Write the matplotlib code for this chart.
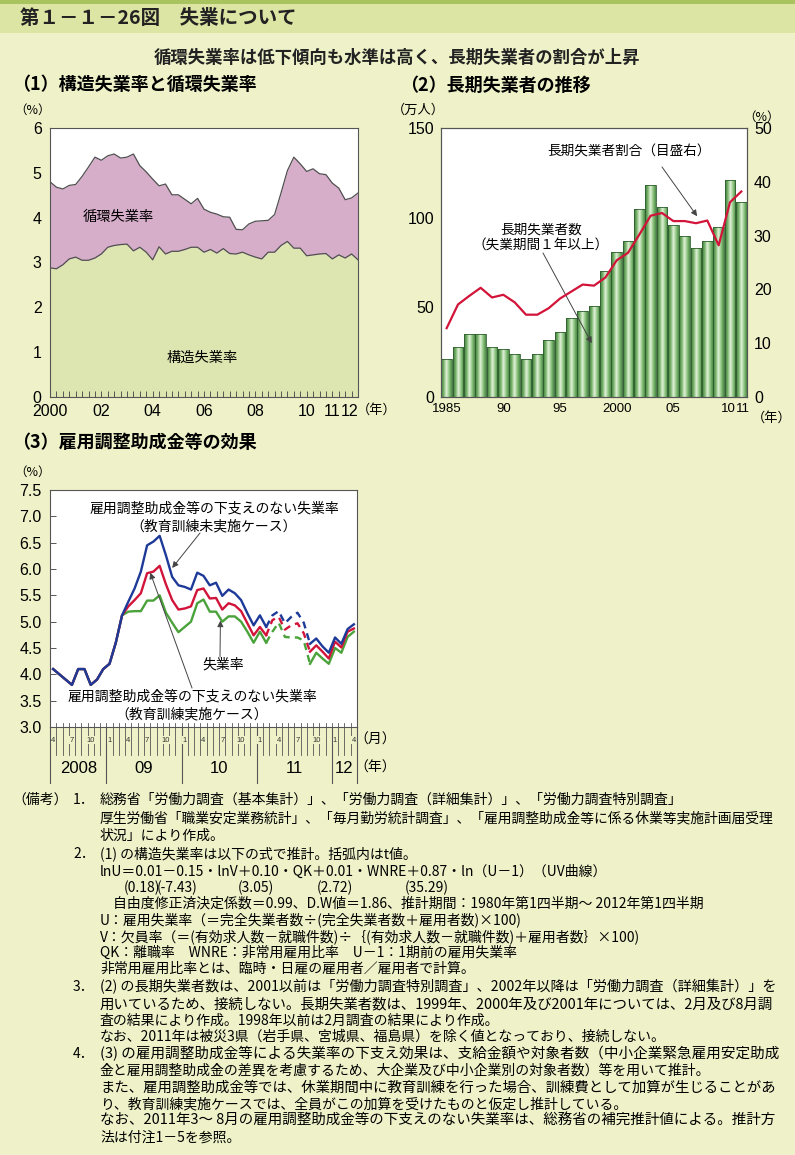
import matplotlib
matplotlib.use('Agg')
import matplotlib.pyplot as plt
import numpy as np
from matplotlib.colors import LinearSegmentedColormap
from matplotlib.patches import Rectangle
from matplotlib.transforms import blended_transform_factory

plt.rcParams['font.family'] = ['Noto Sans CJK JP', 'DejaVu Sans']
NUM = ['Liberation Sans', 'DejaVu Sans']

W, H = 795, 1155

# (1) quarterly 2000Q1 - 2012Q1
total_rate = [4.80, 4.68, 4.64, 4.72, 4.74, 4.92, 5.13, 5.35, 5.28, 5.38,
              5.42, 5.33, 5.35, 5.42, 5.16, 5.02, 4.86, 4.71, 4.75, 4.51,
              4.51, 4.41, 4.31, 4.43, 4.19, 4.12, 4.08, 4.02, 4.01, 3.74,
              3.73, 3.86, 3.92, 3.93, 3.94, 4.07, 4.55, 5.05, 5.35, 5.20,
              5.03, 5.09, 4.98, 4.96, 4.77, 4.66, 4.40, 4.44, 4.55]
structural_rate = [2.88, 2.86, 2.95, 3.08, 3.12, 3.05, 3.05, 3.10, 3.19, 3.34,
                   3.38, 3.40, 3.41, 3.26, 3.34, 3.23, 3.06, 3.35, 3.19, 3.25,
                   3.25, 3.29, 3.34, 3.34, 3.23, 3.29, 3.21, 3.31, 3.20, 3.19,
                   3.23, 3.17, 3.12, 3.08, 3.23, 3.23, 3.38, 3.47, 3.32, 3.32,
                   3.15, 3.17, 3.19, 3.20, 3.08, 3.17, 3.10, 3.19, 3.06]
p1_ticks = [2000, 2002, 2004, 2006, 2008, 2010, 2011, 2012]
p1_ticklabels = ['2000', '02', '04', '06', '08', '10', '11', '12']

# (2) annual 1985 - 2011
lt_years = list(range(1985, 2012))
lt_unemployed = [21, 28, 35, 35, 28, 27, 24, 21, 24, 32, 36, 44, 48, 51,
                 70, 81, 87, 105, 118, 106, 96, 90, 83, 87, 95, 121, 109]
lt_share = [12.8, 17.2, 18.8, 20.3, 18.5, 19.0, 17.6, 15.3, 15.3, 16.5,
            18.3, 19.6, 20.9, 20.7, 22.2, 25.4, 26.8, 30.2, 33.7, 34.2,
            32.7, 32.7, 32.3, 32.8, 28.2, 36.2, 38.2]
p2_ticks = [1985, 1990, 1995, 2000, 2005, 2010, 2011]
p2_ticklabels = ['1985', '90', '95', '2000', '05', '10', '11']

# (3) monthly 2008-04 - 2012-04
rate_actual = [4.1, 4.0, 3.9, 3.8, 4.1, 4.1, 3.8, 3.9, 4.1, 4.2, 4.6, 5.12,
               5.19, 5.20, 5.20, 5.40, 5.40, 5.50, 5.17, 4.98, 4.80, 4.90, 5.00, 5.35,
               5.42, 5.19, 5.19, 5.00, 5.10, 5.10, 5.00, 4.81, 4.60, 4.81, 4.60, 4.81,
               4.98, 4.71, 4.70, 4.70, 4.64, 4.20, 4.41, 4.30, 4.20, 4.50, 4.41, 4.71,
               4.81]
rate_no_support_train = [4.1, 4.0, 3.9, 3.8, 4.1, 4.1, 3.8, 3.9, 4.1, 4.2, 4.6, 5.12,
                         5.29, 5.41, 5.54, 5.92, 5.95, 6.06, 5.71, 5.41, 5.23, 5.25, 5.29, 5.60,
                         5.63, 5.44, 5.45, 5.23, 5.35, 5.31, 5.20, 4.97, 4.74, 4.90, 4.74, 5.03,
                         5.09, 4.85, 4.93, 4.97, 4.78, 4.43, 4.55, 4.43, 4.30, 4.62, 4.51, 4.81,
                         4.87]
rate_no_support = [4.1, 4.0, 3.9, 3.8, 4.1, 4.1, 3.8, 3.9, 4.1, 4.2, 4.6, 5.12,
                   5.38, 5.63, 5.95, 6.45, 6.52, 6.63, 6.26, 5.85, 5.69, 5.66, 5.61, 5.93,
                   5.87, 5.69, 5.74, 5.49, 5.61, 5.54, 5.41, 5.16, 4.93, 5.12, 4.90, 5.12,
                   5.20, 4.97, 5.09, 5.17, 4.98, 4.58, 4.68, 4.53, 4.41, 4.70, 4.58, 4.86,
                   4.95]
p3_year_labels = ['2008', '09', '10', '11', '12']
dash_from, dash_to = 34, 41   # 2011-02 .. 2011-09 (Mar-Aug estimated)

notes = [
    (800, 100, '総務省「労働力調査（基本集計）」、「労働力調査（詳細集計）」、「労働力調査特別調査」', False),
    (818, 100, '厚生労働省「職業安定業務統計」、「毎月勤労統計調査」、「雇用調整助成金等に係る休業等実施計画届受理', True),
    (836, 100, '状況」により作成。', False),
    (854, 100, '(1) の構造失業率は以下の式で推計。括弧内はt値。', False),
    (872, 100, 'lnU＝0.01－0.15・lnV＋0.10・QK＋0.01・WNRE＋0.87・ln（U－1）（UV曲線）', False),
    (904, 113, '自由度修正済決定係数＝0.99、D.W値＝1.86、推計期間：1980年第1四半期～ 2012年第1四半期', False),
    (920, 100, 'U：雇用失業率（＝完全失業者数÷(完全失業者数＋雇用者数)×100)', False),
    (937, 100, 'V：欠員率（＝(有効求人数－就職件数)÷｛(有効求人数－就職件数)＋雇用者数｝×100)', False),
    (953, 100, 'QK：離職率　WNRE：非常用雇用比率　U－1：1期前の雇用失業率', False),
    (969, 100, '非常用雇用比率とは、臨時・日雇の雇用者／雇用者で計算。', False),
    (987, 100, '(2) の長期失業者数は、2001以前は「労働力調査特別調査」、2002年以降は「労働力調査（詳細集計）」を', True),
    (1004, 100, '用いているため、接続しない。長期失業者数は、1999年、2000年及び2001年については、2月及び8月調', True),
    (1021, 100, '査の結果により作成。1998年以前は2月調査の結果により作成。', False),
    (1037, 100, 'なお、2011年は被災3県（岩手県、宮城県、福島県）を除く値となっており、接続しない。', False),
    (1054, 100, '(3) の雇用調整助成金等による失業率の下支え効果は、支給金額や対象者数（中小企業緊急雇用安定助成', True),
    (1071, 100, '金と雇用調整助成金の差異を考慮するため、大企業及び中小企業別の対象者数）等を用いて推計。', False),
    (1088, 100, 'また、雇用調整助成金等では、休業期間中に教育訓練を行った場合、訓練費として加算が生じることがあ', True),
    (1104, 100, 'り、教育訓練実施ケースでは、全員がこの加算を受けたものと仮定し推計している。', False),
    (1121, 100, 'なお、2011年3～ 8月の雇用調整助成金等の下支えのない失業率は、総務省の補完推計値による。推計方', True),
    (1138, 100, '法は付注1－5を参照。', False),
]
note_nums = [(800, '1．'), (854, '2．'), (987, '3．'), (1054, '4．')]
tvals = [(124, '(0.18)'), (157, '(-7.43)'), (238, '(3.05)'), (317, '(2.72)'), (405, '(35.29)')]

BG = '#EFF2C8'


def F(x, y):
    # top-left pixel -> figure fraction
    return x / W, 1 - y / H


def ftext(x, y, s, **kw):
    return fig.text(*F(x, y), s, **kw)


def rect_axes(l, t, r, b):
    return fig.add_axes([l / W, 1 - b / H, (r - l) / W, (b - t) / H])


fig = plt.figure(figsize=(W / 100, H / 100), dpi=100)
fig.patch.set_facecolor(BG)

# header band
fig.patches.append(Rectangle(F(0, 33), 1, 33 / H, transform=fig.transFigure,
                             facecolor='#DCE5A3', edgecolor='none', zorder=0))
fig.patches.append(Rectangle(F(0, 4), 1, 4 / H, transform=fig.transFigure,
                             facecolor='#A9C45E', edgecolor='none', zorder=0))
ftext(20, 18, '第１－１－26図　失業について', fontsize=14, fontweight='bold',
      va='center', color='#222222')
ftext(397, 58, '循環失業率は低下傾向も水準は高く、長期失業者の割合が上昇',
      fontsize=12.5, fontweight='bold', ha='center', va='center', color='#222222')
ftext(12, 85, '（1）構造失業率と循環失業率', fontsize=13, fontweight='bold', va='center')
ftext(400, 85, '（2）長期失業者の推移', fontsize=13, fontweight='bold', va='center')
ftext(12, 442, '（3）雇用調整助成金等の効果', fontsize=13, fontweight='bold', va='center')

arrow_kw = dict(arrowstyle='-|>', color='#444444', lw=0.7, mutation_scale=9,
                shrinkA=0, shrinkB=0)

# ---------------- (1) structural vs cyclical
ax1 = rect_axes(50, 128, 358, 397)
xq = 2000 + np.arange(len(total_rate)) / 4
ax1.fill_between(xq, 0, structural_rate, color='#DDE5B0', lw=0)
ax1.fill_between(xq, structural_rate, total_rate, color='#D6AECA', lw=0)
ax1.plot(xq, structural_rate, color='#505050', lw=0.9)
ax1.plot(xq, total_rate, color='#505050', lw=0.9)
ax1.set_xlim(2000, 2012)
ax1.set_ylim(0, 6)
ax1.set_xticks(p1_ticks)
ax1.set_xticklabels(p1_ticklabels, fontfamily=NUM, fontsize=11.5)
ax1.get_xticklabels()[-1].set_ha('right')
ax1.set_xticks(xq, minor=True)
ax1.tick_params(axis='x', which='both', direction='in', length=4, width=0.7,
                color='#555555', pad=5)
ax1.set_yticks(range(7))
ax1.set_yticklabels([str(v) for v in range(7)], fontfamily=NUM, fontsize=11.5)
ax1.tick_params(axis='y', length=0, pad=6)
for s in ax1.spines.values():
    s.set_color('#555555')
    s.set_linewidth(0.8)
ax1.set_facecolor('white')
ftext(33, 110, '（%）', fontsize=9, va='center', ha='center')
ftext(357, 410, '（年）', fontsize=9.5, va='center', ha='left')
ftext(118, 217, '循環失業率', fontsize=10.3, ha='center', va='center')
ftext(202, 358, '構造失業率', fontsize=10.3, ha='center', va='center')

# ---------------- (2) long-term unemployed
ax2 = rect_axes(441, 128, 747, 397)
ax2.set_facecolor('white')
bars = ax2.bar(lt_years, lt_unemployed, width=0.92, facecolor='none',
               edgecolor='#2F5F2F', lw=0.6, zorder=3)
bar_cmap = LinearSegmentedColormap.from_list(
    'bar', ['#3D7A3B', '#78B36A', '#E4F3DC', '#8CC47F', '#4C8B47'])
grad = np.linspace(0, 1, 64).reshape(1, -1)
for r in bars:
    x0, w, h = r.get_x(), r.get_width(), r.get_height()
    im = ax2.imshow(grad, extent=[x0, x0 + w, 0, h], aspect='auto',
                    cmap=bar_cmap, zorder=2, interpolation='bilinear')
    im.set_clip_path(r)
ax2.set_xlim(1984.5, 2011.5)
ax2.set_ylim(0, 150)
ax2.set_aspect('auto')
ax2.set_xticks([])
tr2 = blended_transform_factory(ax2.transData, ax2.transAxes)
for xt, lab in zip(p2_ticks, p2_ticklabels):
    ha = {'10': 'right', '11': 'left'}.get(lab, 'center')
    dx = {'10': 0.55, '11': -0.45}.get(lab, 0)
    ax2.text(xt + dx, -0.043, lab, transform=tr2, ha=ha, va='center',
             fontfamily=NUM, fontsize=9.5)
ax2.set_yticks([0, 50, 100, 150])
ax2.set_yticklabels(['0', '50', '100', '150'], fontfamily=NUM, fontsize=11.5)
ax2.tick_params(axis='y', length=0, pad=5)
ax2r = ax2.twinx()
ax2r.plot(lt_years, lt_share, color='#D2143A', lw=1.6, zorder=4)
ax2r.set_ylim(0, 50)
ax2r.set_yticks(range(0, 51, 10))
ax2r.set_yticklabels([str(v) for v in range(0, 51, 10)], fontfamily=NUM, fontsize=11.5)
ax2r.tick_params(axis='y', length=0, pad=5)
for a in (ax2, ax2r):
    for s in a.spines.values():
        s.set_color('#555555')
        s.set_linewidth(0.8)
ftext(418, 110, '（万人）', fontsize=9.5, va='center', ha='center')
ftext(762, 117, '（%）', fontsize=9, va='center', ha='center')
ftext(752, 418, '（年）', fontsize=9.5, va='center', ha='left')
ftext(629, 152, '長期失業者割合（目盛右）', fontsize=9.8, ha='center', va='center')
ftext(541, 230, '長期失業者数', fontsize=9.8, ha='center', va='center')
ftext(541, 246, '（失業期間１年以上）', fontsize=9.8, ha='center', va='center')
ax2r.annotate('', xy=(2007.1, 33.6), xytext=F(662, 167), textcoords='figure fraction',
              arrowprops=arrow_kw)
ax2.annotate('', xy=(1997.8, 30), xytext=F(543, 253), textcoords='figure fraction',
             arrowprops=arrow_kw)

# ---------------- (3) employment adjustment subsidy
ax3 = rect_axes(50, 490, 357, 727)
ax3.set_facecolor('white')
m = np.arange(len(rate_actual))
series = [(rate_actual, '#4AA23A', 2), (rate_no_support_train, '#D2143A', 3),
          (rate_no_support, '#1E3A98', 4)]
for vals, col, z in series:
    v = np.array(vals)
    ax3.plot(m[:dash_from + 1], v[:dash_from + 1], color=col, lw=1.7, zorder=z)
    ax3.plot(m[dash_from:dash_to + 1], v[dash_from:dash_to + 1], color=col, lw=1.7,
             zorder=z, ls=(0, (3, 2.2)))
    ax3.plot(m[dash_to:], v[dash_to:], color=col, lw=1.7, zorder=z)
ax3.set_xlim(-0.5, len(m) - 0.5)
ax3.set_ylim(3.0, 7.5)
ax3.set_yticks(np.arange(3.0, 7.51, 0.5))
ax3.set_yticklabels(['%.1f' % v for v in np.arange(3.0, 7.51, 0.5)],
                    fontfamily=NUM, fontsize=11.5)
ax3.tick_params(axis='y', direction='in', length=4, width=0.7, color='#555555', pad=6)
ax3.set_xticks([])
for s in ax3.spines.values():
    s.set_color('#555555')
    s.set_linewidth(0.8)
tr = blended_transform_factory(ax3.transData, ax3.transAxes)
for b in np.arange(-0.5, len(m)):
    ax3.plot([b, b], [0.016, -0.12], transform=tr, color='#555555', lw=0.6, clip_on=False)
months = (3 + m) % 12 + 1
for mi, mo in zip(m, months):
    if mo in (1, 4, 7, 10):
        ax3.text(mi, -0.056, str(mo), transform=tr, fontsize=5.5, ha='center', va='center',
                 fontfamily=NUM, color='#333333',
                 bbox=dict(facecolor=BG, edgecolor='none', pad=0.3))
year_bounds = [-0.5] + [mi - 0.5 for mi, mo in zip(m, months) if mo == 1] + [len(m) - 0.5]
for b in year_bounds:
    ax3.plot([b, b], [0, -0.238], transform=tr, color='#555555', lw=0.8, clip_on=False)
for (b0, b1), lab in zip(zip(year_bounds[:-1], year_bounds[1:]), p3_year_labels):
    ax3.text((b0 + b1) / 2, -0.175, lab, transform=tr, fontsize=12, ha='center',
             va='center', fontfamily=NUM)
ftext(375, 740, '（月）', fontsize=10, va='center', ha='center')
ftext(375, 768, '（年）', fontsize=10, va='center', ha='center')
ftext(33, 472, '（%）', fontsize=9, va='center', ha='center')
ftext(214, 508, '雇用調整助成金等の下支えのない失業率', fontsize=10, ha='center', va='center')
ftext(214, 526, '（教育訓練未実施ケース）', fontsize=10, ha='center', va='center')
ftext(223, 665, '失業率', fontsize=10, ha='center', va='center')
ftext(192, 697, '雇用調整助成金等の下支えのない失業率', fontsize=10, ha='center', va='center')
ftext(192, 714, '（教育訓練実施ケース）', fontsize=10, ha='center', va='center')
ax3.annotate('', xy=(19, 6.02), xytext=F(200, 533), textcoords='figure fraction',
             arrowprops=arrow_kw)
ax3.annotate('', xy=(15.5, 5.93), xytext=F(192, 688), textcoords='figure fraction',
             arrowprops=arrow_kw)
ax3.annotate('', xy=(26.7, 5.02), xytext=F(220, 657), textcoords='figure fraction',
             arrowprops=arrow_kw)

# ---------------- notes
renderer = fig.canvas.get_renderer()
NFS = 10.0
ftext(12, 800, '（備考）', fontsize=NFS, va='center')
for y, s in note_nums:
    ftext(73, y, s, fontsize=NFS, va='center')
for x, s in tvals:
    ftext(x, 888, s, fontsize=NFS, va='center')
for y, x, s, full in notes:
    t = ftext(x, y, s, fontsize=NFS, va='center')
    if full:
        wpx = t.get_window_extent(renderer).width
        k = min(max((776 - x) / wpx, 0.88), 1.08)
        t.set_fontsize(NFS * k)

fig.savefig('out.png', dpi=100, facecolor=BG)
